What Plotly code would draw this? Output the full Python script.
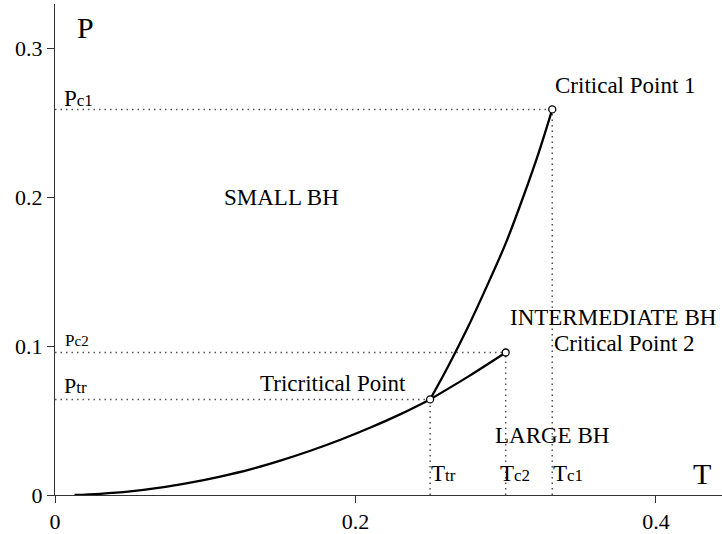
import plotly.graph_objects as go

# Phase boundaries
low_T = [0.013, 0.03, 0.05, 0.07, 0.09, 0.11, 0.13, 0.15, 0.17, 0.19, 0.21, 0.23, 0.2497]
low_P = [0.0, 0.0008, 0.0024, 0.0049, 0.0083, 0.0124, 0.0172, 0.0231, 0.0297, 0.0371, 0.0453, 0.0543, 0.0642]

up_T = [0.2497, 0.262, 0.275, 0.2896, 0.30, 0.3116, 0.322, 0.331]
up_P = [0.0642, 0.087, 0.113, 0.145, 0.169, 0.200, 0.230, 0.259]

mid_T = [0.2497, 0.275, 0.300]
mid_P = [0.0642, 0.0795, 0.0957]

# Special points: tricritical, critical 2, critical 1
pt_T = [0.2497, 0.300, 0.331]
pt_P = [0.0642, 0.0957, 0.259]

x_ticks = [0, 0.2, 0.4]
y_ticks = [0, 0.1, 0.2, 0.3]

FONT = "Liberation Serif, Times New Roman, serif"
DOT = "#555555"

fig = go.Figure()

# dotted guide lines
for t, p in zip(pt_T, pt_P):
    fig.add_trace(go.Scatter(x=[0, t], y=[p, p], mode="lines",
                             line=dict(color=DOT, width=1.5, dash="1.5px,4px"),
                             hoverinfo="skip", showlegend=False))
    fig.add_trace(go.Scatter(x=[t, t], y=[0, p], mode="lines",
                             line=dict(color=DOT, width=1.5, dash="1.5px,4px"),
                             hoverinfo="skip", showlegend=False))

for xs, ys in [(low_T, low_P), (up_T, up_P), (mid_T, mid_P)]:
    fig.add_trace(go.Scatter(x=xs, y=ys, mode="lines", line=dict(color="black", width=2.3),
                             line_shape="spline", showlegend=False))

fig.add_trace(go.Scatter(x=pt_T, y=pt_P, mode="markers",
                         marker=dict(symbol="circle", size=7, color="white",
                                     line=dict(color="black", width=1.3)),
                         showlegend=False))

def ann(x, y, text, size=23, xanchor="center", yanchor="middle"):
    fig.add_annotation(x=x, y=y, text=text, showarrow=False, xanchor=xanchor,
                       yanchor=yanchor, font=dict(family=FONT, size=size, color="black"))

ann(0.3316, 0.275, "Critical Point 1", xanchor="left")
ann(0.1505, 0.200, "SMALL BH")
ann(0.3715, 0.119, "INTERMEDIATE BH")
ann(0.379, 0.1017, "Critical Point 2")
ann(0.1848, 0.0749, "Tricritical Point")
ann(0.3306, 0.040, "LARGE BH")
ann(0.020, 0.3137, "P", size=30)
ann(0.4304, 0.0144, "T", size=30)

ann(0.0047, 0.266, "P<span style='font-size:17px'>c1</span>", xanchor="left")
ann(0.0050, 0.1037, "P<span style='font-size:15px'>c2</span>", size=17, xanchor="left")
ann(0.0047, 0.0736, "P<span style='font-size:17px'>tr</span>", size=22, xanchor="left")
ann(0.249, 0.0144, "T<span style='font-size:17px'>tr</span>", xanchor="left")
ann(0.2949, 0.0144, "T<span style='font-size:17px'>c2</span>", xanchor="left")
ann(0.330, 0.0144, "T<span style='font-size:17px'>c1</span>", xanchor="left")

axis_common = dict(showgrid=False, zeroline=False, showline=True, linecolor="#333333",
                   linewidth=1, ticks="outside", ticklen=7, tickcolor="#333333",
                   tickfont=dict(family=FONT, size=22, color="black"))

fig.update_xaxes(range=[0, 0.444], tickvals=x_ticks, ticktext=["0", "0.2", "0.4"], **axis_common)
fig.update_yaxes(range=[0, 0.3298], tickvals=y_ticks, ticktext=["0", "0.1", "0.2", "0.3"], **axis_common)

fig.update_layout(width=722, height=534, margin=dict(l=55, r=0, t=4, b=37),
                  plot_bgcolor="white", paper_bgcolor="white", showlegend=False)

fig.write_html("out.html", config={"displayModeBar": False},
               post_script="document.body.style.margin='0';document.body.style.overflow='hidden';")
